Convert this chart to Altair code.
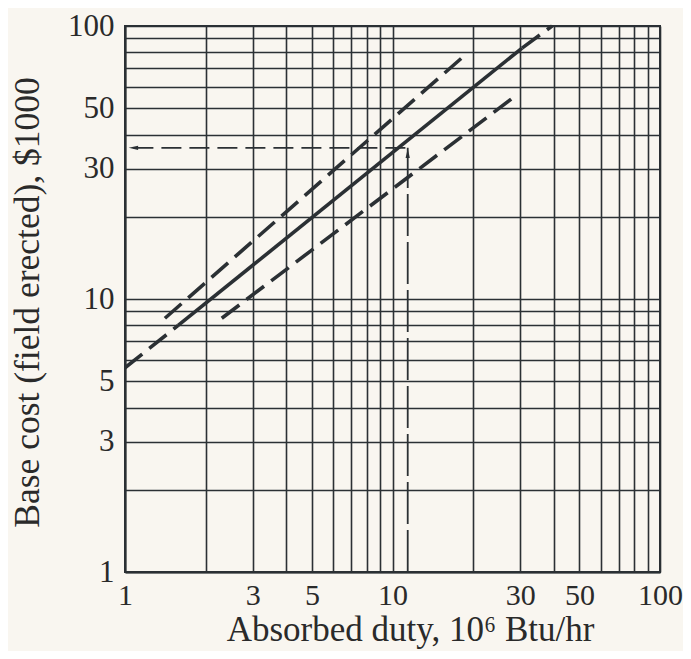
import altair as alt
import pandas as pd

# ---- data ----
grid_vals = [1, 2, 3, 4, 5, 6, 7, 8, 9, 10, 20, 30, 40, 50, 60, 70, 80, 90, 100]
label_vals = [1, 3, 5, 10, 30, 50, 100]

# central correlation line: dashed extrapolations + solid central part
solid_x = [1.58, 30.5]
solid_y = [8.0, 83.0]
ext_low_x = [1.0, 1.58]
ext_low_y = [5.6, 8.0]
ext_high_x = [30.5, 39.5]
ext_high_y = [83.0, 100.0]
# upper and lower bounds (dashed)
upper_x = [1.41, 18.6]
upper_y = [8.5, 78.0]
lower_x = [2.30, 28.5]
lower_y = [8.5, 55.0]

# example reading: duty 11.4 -> cost ~36
ex_x = 11.4
ex_y = 35.8
ex_arrow_h = [1.075, 35.8]
ex_arrow_v = [11.4, 34.2]

INK = "#2b3034"
BG = "#f9f6f0"
FONT = "Liberation Serif"

xs = alt.Scale(type="log", domain=[1, 100], nice=False)
ys = alt.Scale(type="log", domain=[1, 100], nice=False)

lab_expr = "indexof([1,3,5,10,30,50,100], datum.value) >= 0 ? format(datum.value, 'd') : ''"

x_axis = alt.Axis(values=grid_vals, grid=True, gridColor=INK, gridWidth=1.6, gridOpacity=1,
                  ticks=False, domain=True, domainColor=INK, domainWidth=2,
                  labelExpr=lab_expr, labelFont=FONT, labelFontSize=30, labelColor="#2a2a2a",
                  labelPadding=8, labelFlush=False, labelOverlap=False,
                  title="Absorbed duty, 10⁶ Btu/hr", titleFont=FONT, titleFontSize=35,
                  titleFontWeight="normal", titleColor="#2a2a2a",
                  titleX=285, titleY=57, titleBaseline="middle", titleAlign="center")
y_axis = alt.Axis(values=grid_vals, grid=True, gridColor=INK, gridWidth=1.6, gridOpacity=1,
                  ticks=False, domain=True, domainColor=INK, domainWidth=2,
                  labelExpr=lab_expr, labelFont=FONT, labelFontSize=31, labelColor="#2a2a2a",
                  labelPadding=11, labelFlush=False, labelOverlap=False, labelBaseline="middle",
                  title="Base cost (field erected), $1000", titleFont=FONT, titleFontSize=35.5,
                  titleFontWeight="normal", titleColor="#2a2a2a", titleAngle=-90,
                  titleX=-98, titleY=276, titleBaseline="middle", titleAlign="center")

solid_df = pd.DataFrame({"x": solid_x, "y": solid_y})
dash_df = pd.DataFrame({
    "x": ext_low_x + ext_high_x + upper_x + lower_x,
    "y": ext_low_y + ext_high_y + upper_y + lower_y,
    "seg": ["a"] * 2 + ["b"] * 2 + ["c"] * 2 + ["d"] * 2,
})
h_df = pd.DataFrame({"x": [ex_arrow_h[0], ex_x], "y": [ex_y, ex_y]})
v_df = pd.DataFrame({"x": [ex_x, ex_x], "y": [1, ex_y]})

base_grid = alt.Chart(solid_df).mark_line(color=INK, strokeWidth=3.6).encode(
    x=alt.X("x:Q", scale=xs, axis=x_axis),
    y=alt.Y("y:Q", scale=ys, axis=y_axis),
)
dashed = alt.Chart(dash_df).mark_line(color=INK, strokeWidth=3.6, strokeDash=[22, 9]).encode(
    x=alt.X("x:Q", scale=xs), y=alt.Y("y:Q", scale=ys), detail="seg:N")
hline = alt.Chart(h_df).mark_line(color=INK, strokeWidth=1.8, strokeDash=[20, 8]).encode(
    x=alt.X("x:Q", scale=xs), y=alt.Y("y:Q", scale=ys))
vline = alt.Chart(v_df).mark_line(color=INK, strokeWidth=1.8, strokeDash=[42, 6]).encode(
    x=alt.X("x:Q", scale=xs), y=alt.Y("y:Q", scale=ys))
head_h = alt.Chart(pd.DataFrame({"x": [ex_arrow_h[0]], "y": [ex_arrow_h[1]]})).mark_point(
    shape="M-1,0L1,-0.45L1,0.45Z", filled=True, color=INK, opacity=1, size=90).encode(
    x=alt.X("x:Q", scale=xs), y=alt.Y("y:Q", scale=ys))
head_v = alt.Chart(pd.DataFrame({"x": [ex_arrow_v[0]], "y": [ex_arrow_v[1]]})).mark_point(
    shape="M0,-1L0.45,1L-0.45,1Z", filled=True, color=INK, opacity=1, size=90).encode(
    x=alt.X("x:Q", scale=xs), y=alt.Y("y:Q", scale=ys))

chart = alt.layer(base_grid, dashed, hline, vline, head_h, head_v).properties(
    width=535, height=546, autosize="none",
    padding={"left": 117, "top": 18, "right": 23, "bottom": 79},
    background=BG,
).configure_view(stroke=INK, strokeWidth=2)

chart.save("out.html", embed_options={"renderer": "svg", "actions": False})
